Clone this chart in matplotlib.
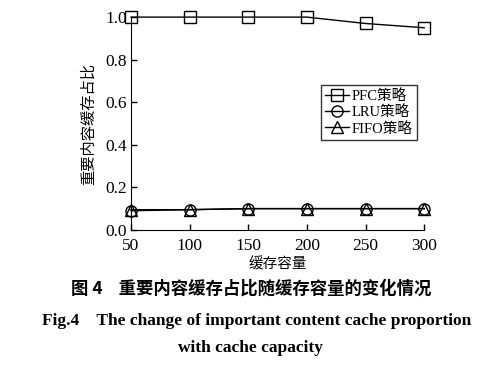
import matplotlib
matplotlib.use('Agg')
import matplotlib.pyplot as plt

capacity = [50, 100, 150, 200, 250, 300]
pfc = [1.0, 1.0, 1.0, 1.0, 0.97, 0.95]
lru = [0.09, 0.095, 0.10, 0.10, 0.10, 0.10]
fifo = [0.095, 0.095, 0.10, 0.10, 0.10, 0.10]
labels = ['PFC策略', 'LRU策略', 'FIFO策略']

serif = ['Liberation Serif', 'Noto Sans CJK SC']
cjk = ['Noto Sans CJK SC', 'DejaVu Sans']

fig = plt.figure(figsize=(5.02, 3.72), dpi=100)
ax = fig.add_axes([0.261, 0.382, 0.584, 0.572])

ax.plot(capacity, pfc, color='black', lw=1, marker='s', ms=8, mfc='none', mec='black', mew=1, label=labels[0], clip_on=False)
ax.plot(capacity, lru, color='black', lw=1, marker='o', ms=8, mfc='none', mec='black', mew=1, label=labels[1], clip_on=False)
ax.plot(capacity, fifo, color='black', lw=1, marker='^', ms=8, mfc='none', mec='black', mew=1, label=labels[2], clip_on=False)

ax.set_xlim(50, 300)
ax.set_ylim(0, 1.0)
ax.set_xticks(capacity)
ax.set_yticks([0.0, 0.2, 0.4, 0.6, 0.8, 1.0])
ax.set_yticklabels(['0.0', '0.2', '0.4', '0.6', '0.8', '1.0'])
ax.spines['top'].set_visible(False)
ax.spines['right'].set_visible(False)
ax.tick_params(direction='in', length=4, width=1, labelsize=12.5)
ax.tick_params(axis='x', pad=6)
ax.tick_params(axis='y', pad=3)
for t in ax.get_xticklabels() + ax.get_yticklabels():
    t.set_fontfamily(serif)

ax.set_xlabel('缓存容量', family=cjk, fontsize=10.5, labelpad=2)
ax.set_ylabel('重要内容缓存占比', family=cjk, fontsize=11, labelpad=6)

leg = ax.legend(loc='upper right', bbox_to_anchor=(1.0, 0.715), frameon=True, fancybox=False,
                edgecolor='black', handlelength=1.6, handletextpad=0.2, borderpad=0.3,
                labelspacing=0.15, prop={'family': serif, 'size': 10.5})
leg.get_frame().set_linewidth(1)

fig.text(0.5, 0.225, '图 4    重要内容缓存占比随缓存容量的变化情况', ha='center', va='center',
         family=cjk, fontsize=12.5, fontweight='bold')
fig.text(0.512, 0.138, 'Fig.4    The change of important content cache proportion', ha='center', va='center',
         family='Liberation Serif', fontsize=12.5, fontweight='bold')
fig.text(0.5, 0.064, 'with cache capacity', ha='center', va='center',
         family='Liberation Serif', fontsize=12.5, fontweight='bold')

fig.savefig('out.png', dpi=100)
